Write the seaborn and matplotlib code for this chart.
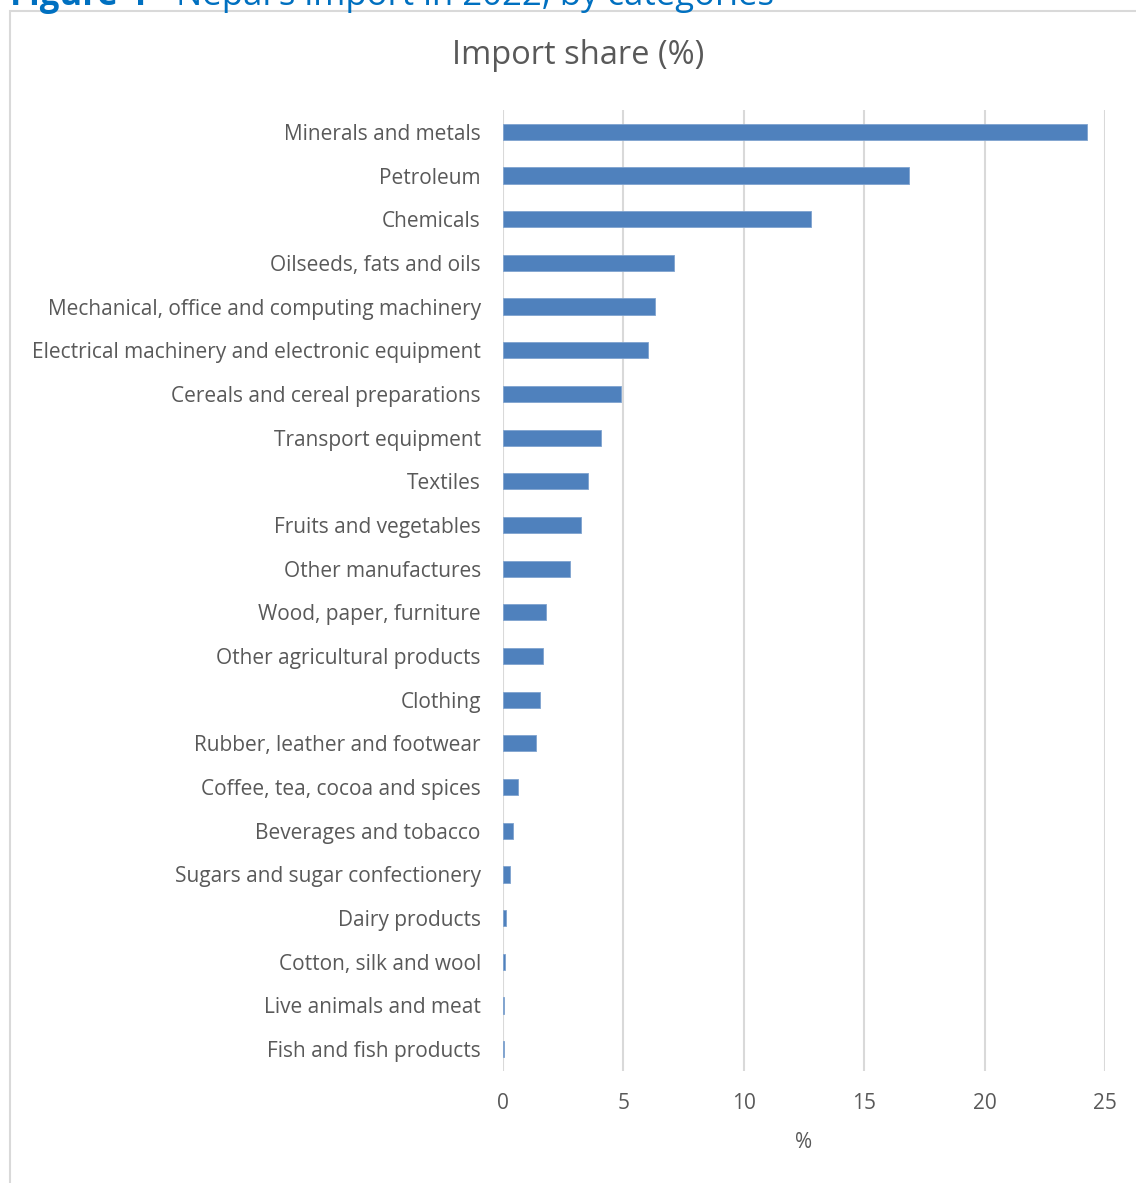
import matplotlib
matplotlib.use("Agg")
import matplotlib.pyplot as plt
import seaborn as sns
import pandas as pd
from matplotlib.patches import Rectangle

categories = [
    "Minerals and metals", "Petroleum", "Chemicals", "Oilseeds, fats and oils",
    "Mechanical, office and computing machinery",
    "Electrical machinery and electronic equipment",
    "Cereals and cereal preparations", "Transport equipment", "Textiles",
    "Fruits and vegetables", "Other manufactures", "Wood, paper, furniture",
    "Other agricultural products", "Clothing", "Rubber, leather and footwear",
    "Coffee, tea, cocoa and spices", "Beverages and tobacco",
    "Sugars and sugar confectionery", "Dairy products", "Cotton, silk and wool",
    "Live animals and meat", "Fish and fish products",
]
shares = [24.25, 16.86, 12.79, 7.10, 6.31, 6.02, 4.90, 4.07, 3.53, 3.24, 2.78,
          1.79, 1.66, 1.54, 1.37, 0.62, 0.42, 0.27, 0.12, 0.09, 0.05, 0.03]
xticks = [0, 5, 10, 15, 20, 25]

df = pd.DataFrame({"category": categories, "share": shares})

sns.set_theme(style="white")
plt.rcParams["font.family"] = ["Open Sans", "DejaVu Sans"]

W, H = 1136, 1183
fig = plt.figure(figsize=(W / 100, H / 100), dpi=100)
ax = fig.add_axes([503 / W, 1 - 1071 / H, (1105 - 503) / W, (1071 - 110) / H])

sns.barplot(data=df, x="share", y="category", color="#4F81BD", saturation=1,
            width=0.37, ax=ax, orient="h", edgecolor="#7fa3cf", linewidth=0.6)

ax.set_xlim(0, 25)
ax.set_xticks(xticks)
ax.set_xticklabels([str(t) for t in xticks])
ax.grid(axis="x", color="#d9d9d9", linewidth=1.5)
ax.set_axisbelow(True)
for s in ax.spines.values():
    s.set_visible(False)
ax.tick_params(axis="both", length=0, colors="#595959", labelsize=15)
ax.tick_params(axis="y", pad=16)
ax.tick_params(axis="x", pad=16)
ax.set_ylabel("")
ax.set_xlabel("%", color="#595959", fontsize=15, labelpad=13)

fig.text(578 / W, 1 - 55 / H, "Import share (%)", ha="center", va="center",
         fontsize=23.5, color="#595959")

# outer chart border
fig.patches.append(Rectangle((10 / W, -0.01), 1.1, 1 - 11 / H + 0.01,
                             transform=fig.transFigure, fill=False,
                             edgecolor="#d9d9d9", linewidth=1.5))
# cut-off figure caption at the very top
renderer = fig.canvas.get_renderer()
t1 = fig.text(10 / W, 1 - 5 / H, "Figure 4", ha="left", va="baseline",
              fontsize=25, color="#0070C0", fontweight="bold")
bb = t1.get_window_extent(renderer=renderer)
fig.text(bb.x1 / W, 1 - 5 / H, " - Nepal's import in 2022, by categories",
         ha="left", va="baseline", fontsize=25, color="#0070C0")

fig.savefig("out.png", dpi=100)
